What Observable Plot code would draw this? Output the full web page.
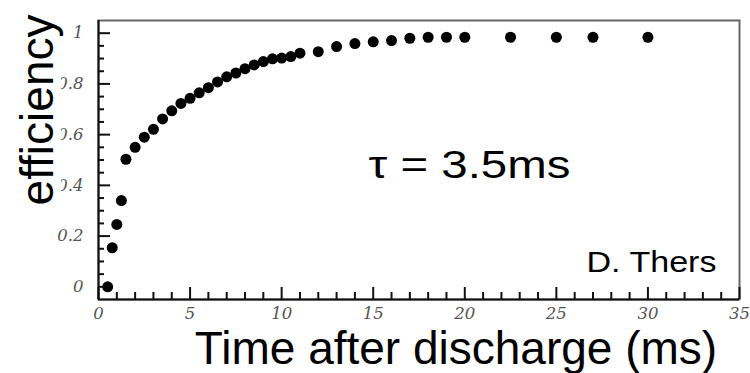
<!DOCTYPE html>
<html>
<head>
<meta charset="utf-8">
<script src="https://cdn.jsdelivr.net/npm/d3@7"></script>
<script src="https://cdn.jsdelivr.net/npm/@observablehq/plot@0.6"></script>
<style>
  html, body { margin: 0; padding: 0; background: #fff; }
</style>
</head>
<body>
<div id="chart"></div>
<script>
// ---- data ----
const timeMs = [0.5, 0.75, 1, 1.25, 1.5, 2, 2.5, 3, 3.5, 4, 4.5, 5, 5.5, 6, 6.5, 7, 7.5, 8, 8.5, 9, 9.5, 10, 10.5, 11,
                12, 13, 14, 15, 16, 17, 18, 19, 20, 22.5, 25, 27, 30];
const efficiency = [0, 0.154, 0.246, 0.34, 0.503, 0.55, 0.59, 0.621, 0.662, 0.694, 0.723, 0.743, 0.765, 0.785, 0.808,
                    0.828, 0.843, 0.86, 0.875, 0.888, 0.899, 0.902, 0.908, 0.921,
                    0.927, 0.947, 0.959, 0.966, 0.971, 0.98, 0.984, 0.984, 0.984, 0.984, 0.984, 0.984, 0.984];
const xMajorTicks = [0, 5, 10, 15, 20, 25, 30, 35];
const xMinorTicks = [1, 2, 3, 4, 6, 7, 8, 9, 11, 12, 13, 14, 16, 17, 18, 19, 21, 22, 23, 24, 26, 27, 28, 29, 31, 32, 33, 34];
const yMajorTicks = [0, 0.2, 0.4, 0.6, 0.8, 1];
const yMinorTicks = [0.05, 0.1, 0.15, 0.25, 0.3, 0.35, 0.45, 0.5, 0.55, 0.65, 0.7, 0.75, 0.85, 0.9, 0.95];
const xDomain = [0, 35];
const yDomain = [-0.05, 1.05];
const xTitle = "Time after discharge (ms)";
const yTitle = "efficiency";
const tauLabel = "τ = 3.5ms";
const creditLabel = "D. Thers";

const points = timeMs.map((t, i) => ({t, e: efficiency[i]}));

const W = 750, H = 373, ML = 98, MR = 11, MT = 20, MB = 74;
const frameW = W - ML - MR, frameH = H - MT - MB;

const tickText = {
  fontFamily: "'DejaVu Serif', serif",
  fontStyle: "italic",
  fontSize: 16.5,
  fill: "#555"
};
const sans = "'Liberation Sans', Arial, sans-serif";
const tickStyle = {stroke: "#111", strokeWidth: 2};

const chart = Plot.plot({
  width: W,
  height: H,
  marginLeft: ML,
  marginRight: MR,
  marginTop: MT,
  marginBottom: MB,
  style: {background: "#fff", fontFamily: sans},
  x: {domain: xDomain, axis: null},
  y: {domain: yDomain, axis: null},
  marks: [
    Plot.frame({stroke: "#666", strokeWidth: 2}),
    Plot.ruleX([xDomain[0]], {stroke: "#111", strokeWidth: 2}),
    Plot.ruleY([yDomain[0]], {stroke: "#111", strokeWidth: 2}),
    // x ticks (inward from the bottom axis)
    Plot.tickX(xMajorTicks, {x: d => d, insetTop: frameH - 12, ...tickStyle}),
    Plot.tickX(xMinorTicks, {x: d => d, insetTop: frameH - 7, ...tickStyle}),
    Plot.text(xMajorTicks, {x: d => d, text: d => String(d), frameAnchor: "bottom", dy: 14,
      textAnchor: "middle", lineAnchor: "middle", ...tickText}),
    // y ticks (inward from the left axis)
    Plot.tickY(yMajorTicks, {y: d => d, insetRight: frameW - 12, ...tickStyle}),
    Plot.tickY(yMinorTicks, {y: d => d, insetRight: frameW - 6, ...tickStyle}),
    Plot.text(yMajorTicks, {y: d => d, text: d => String(d), frameAnchor: "left", dx: -15,
      textAnchor: "end", lineAnchor: "middle", ...tickText}),
    // data
    Plot.dot(points, {x: "t", y: "e", r: 5.5, fill: "#000", stroke: "none"}),
    // annotations
    Plot.text([yTitle], {text: d => d, frameAnchor: "left", rotate: -90, dx: -46, dy: -50,
      textAnchor: "middle", lineAnchor: "bottom", fontSize: 46, fontFamily: sans, fill: "#000"}),
    Plot.text([xTitle], {text: d => d, frameAnchor: "bottom", dx: 37, dy: 64,
      textAnchor: "middle", lineAnchor: "bottom", fontSize: 46, fontFamily: sans, fill: "#000"}),
    Plot.text([tauLabel], {text: d => d, frameAnchor: "top-left", dx: 371, dy: 157,
      textAnchor: "middle", lineAnchor: "bottom", fontSize: 38, fontFamily: sans, fill: "#000"}),
    Plot.text([creditLabel], {text: d => d, frameAnchor: "bottom-right", dx: -88, dy: -28,
      textAnchor: "middle", lineAnchor: "bottom", fontSize: 29, fontFamily: sans, fill: "#000"})
  ]
});

document.getElementById("chart").appendChild(chart);

// stretch the in-frame annotations horizontally like the reference
const svg = d3.select(chart);
svg.selectAll("text").each(function () {
  const t = this.textContent;
  if (t === tauLabel) d3.select(this).attr("textLength", 202).attr("lengthAdjust", "spacingAndGlyphs");
  if (t === creditLabel) d3.select(this).attr("textLength", 130).attr("lengthAdjust", "spacingAndGlyphs");
});
// white backing behind the y title, which hides part of the tick labels as in the reference
const eff = svg.selectAll("text").filter(function () { return this.textContent === yTitle; }).node();
if (eff) {
  const g = eff.parentNode;
  const rect = document.createElementNS("http://www.w3.org/2000/svg", "rect");
  rect.setAttribute("x", 0);
  rect.setAttribute("y", 0);
  rect.setAttribute("width", 61);
  rect.setAttribute("height", 212);
  rect.setAttribute("fill", "#fff");
  g.parentNode.insertBefore(rect, g);
}
</script>
</body>
</html>
